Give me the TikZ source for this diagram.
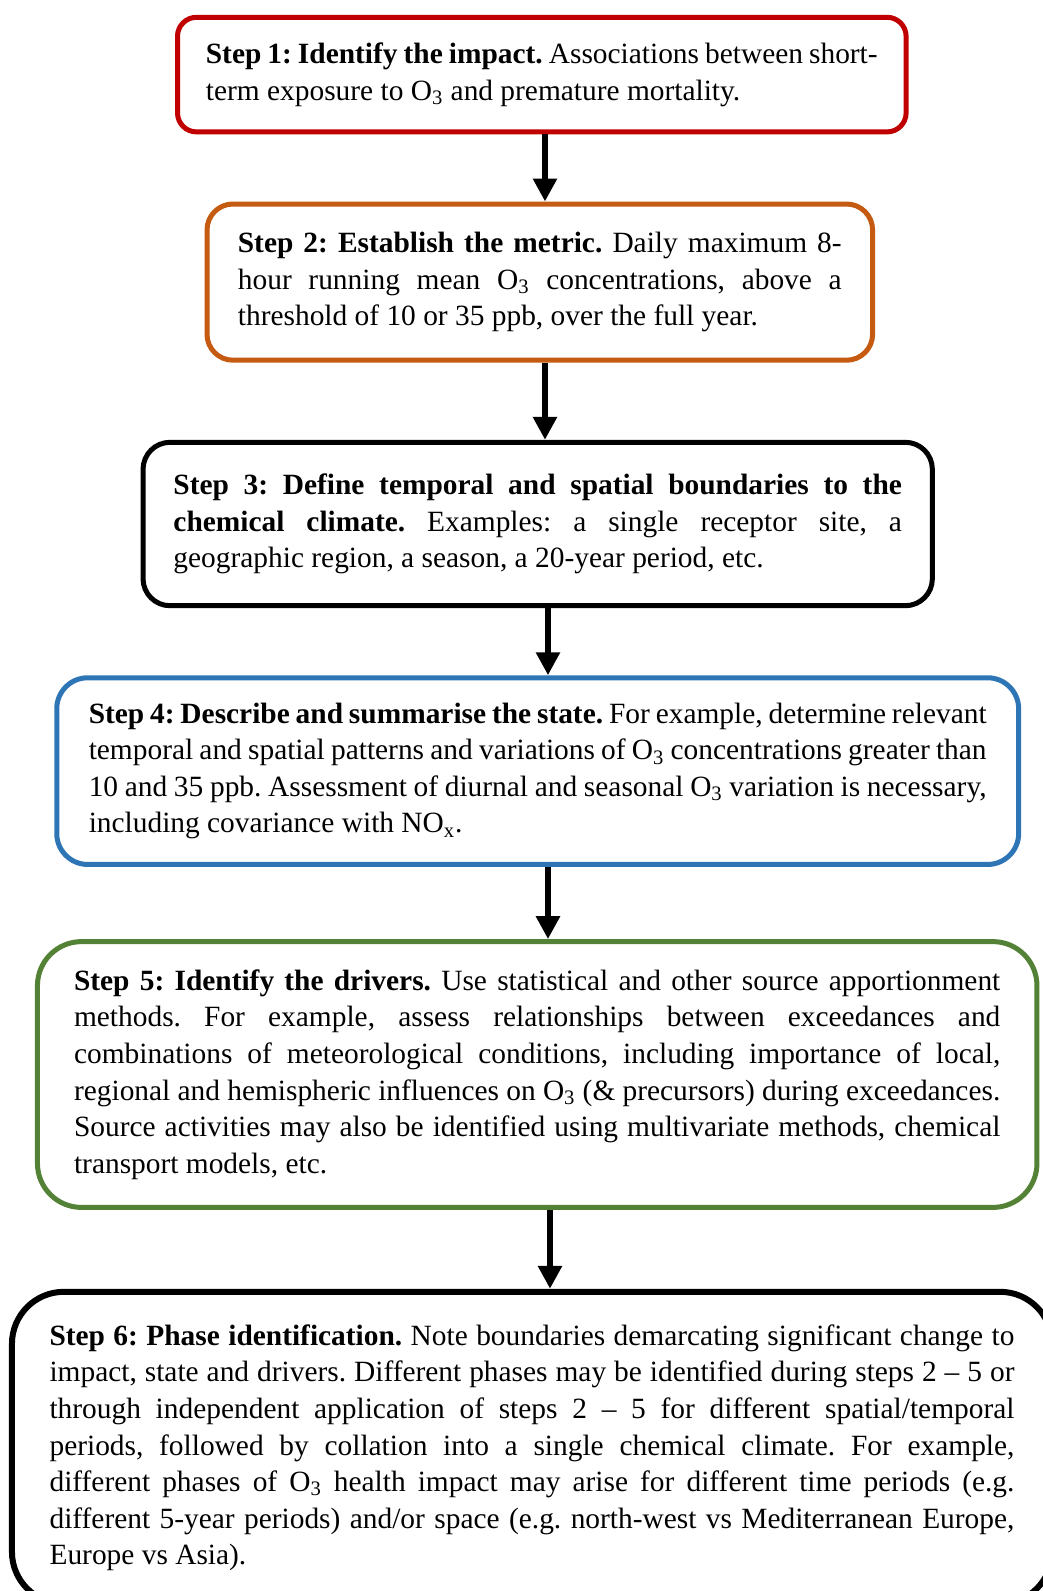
\documentclass[tikz,border=0pt]{standalone}
\usepackage{fontspec}
\setmainfont{Liberation Serif}
\usetikzlibrary{arrows.meta}

\definecolor{stepred}{HTML}{C00000}
\definecolor{steporange}{HTML}{C55A11}
\definecolor{stepblue}{HTML}{2E75B6}
\definecolor{stepgreen}{HTML}{538135}

% text set as in the boxes of the source
\newcommand{\stepfont}{\fontsize{14.7}{18.27}\selectfont\frenchspacing
  \tolerance=10000\relax\hyphenpenalty=10000\relax\exhyphenpenalty=10000\relax}

\begin{document}
\begin{tikzpicture}[x=0.5pt, y=-0.5pt, >={Triangle[width=11.5pt,length=11.5pt]}]
    \tikzstyle{stepbox}=[draw, line width=2.5pt, fill=white, align=justify, inner ysep=2pt,
      font=\stepfont]
    \tikzstyle{flow}=[->, line width=3.25pt]
  \useasboundingbox (0,0) rectangle (1043,1591);
  \clip (0,0) rectangle (1043,1591);

  %% the six steps
  \node (s1) at (541.8,74.6) [stepbox, draw=stepred, text width=335.9pt, inner xsep=14.2pt,
    minimum height=57.3pt, rounded corners=9.5pt]
    {\textbf{Step 1: Identify the impact.} Associations between short-\linebreak
     term exposure to O\textsubscript{3} and premature mortality.};
  \node (s2) at (539.8,282.1) [stepbox, draw=steporange, text width=301.9pt, inner xsep=15.45pt,
    minimum height=78.1pt, rounded corners=13pt]
    {\textbf{Step 2: Establish the metric.} Daily maximum 8-\linebreak
     hour running mean O\textsubscript{3} concentrations, above a\linebreak
     threshold of 10 or 35 ppb, over the full year.};
  \node (s3) at (537.7,524) [stepbox, draw=black, text width=364.25pt, inner xsep=15.2pt,
    minimum height=81.7pt, rounded corners=13.5pt]
    {\textbf{Step 3: Define temporal and spatial boundaries to the\linebreak
     chemical climate.} Examples: a single receptor site, a\linebreak
     geographic region, a season, a 20-year period, etc.};
  \node (s4) at (537.7,771.1) [stepbox, draw=stepblue, text width=448.95pt, inner xsep=16pt,
    minimum height=93.35pt, rounded corners=15.5pt]
    {\textbf{Step 4: Describe and summarise the state.} For example, determine relevant\linebreak
     temporal and spatial patterns and variations of O\textsubscript{3} concentrations greater than\linebreak
     10 and 35 ppb. Assessment of diurnal and seasonal O\textsubscript{3} variation is necessary,\linebreak
     including covariance with NO\textsubscript{x}.};
  \node (s5) at (537.2,1074.5) [stepbox, draw=stepgreen, text width=463.15pt, inner xsep=18.3pt,
    minimum height=132.9pt, rounded corners=22pt]
    {\textbf{Step 5: Identify the drivers.} Use statistical and other source apportionment\linebreak
     methods. For example, assess relationships between exceedances and\linebreak
     combinations of meteorological conditions, including importance of local,\linebreak
     regional and hemispheric influences on O\textsubscript{3} (\& precursors) during exceedances.\linebreak
     Source activities may also be identified using multivariate methods, chemical\linebreak
     transport models, etc.};
  \node (s6) at (532,1447.8) [stepbox, draw=black, line width=3pt, text width=482.45pt, inner xsep=18.8pt,
    minimum height=156pt, rounded corners=26pt]
    {\textbf{Step 6: Phase identification.} Note boundaries demarcating significant change to\linebreak
     impact, state and drivers. Different phases may be identified during steps 2 -- 5 or\linebreak
     through independent application of steps 2 -- 5 for different spatial/temporal\linebreak
     periods, followed by collation into a single chemical climate. For example,\linebreak
     different phases of O\textsubscript{3} health impact may arise for different time periods (e.g.\linebreak
     different 5-year periods) and/or space (e.g. north-west vs Mediterranean Europe,\linebreak
     Europe vs Asia).};

  %% arrow columns
  \coordinate (c12) at (545,0);
  \coordinate (c23) at (545,0);
  \coordinate (c34) at (548,0);
  \coordinate (c45) at (548,0);
  \coordinate (c56) at (550,0);

  \draw[flow] (s1.south -| c12) -- (s2.north -| c12);
  \draw[flow] (s2.south -| c23) -- (s3.north -| c23);
  \draw[flow] (s3.south -| c34) -- (s4.north -| c34);
  \draw[flow] (s4.south -| c45) -- (s5.north -| c45);
  \draw[flow] (s5.south -| c56) -- (s6.north -| c56);
\end{tikzpicture}
\end{document}
